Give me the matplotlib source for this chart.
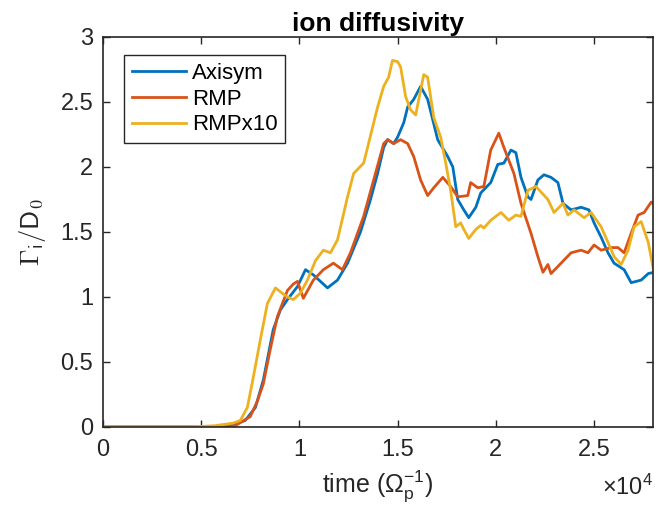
import matplotlib
matplotlib.use("Agg")
import matplotlib.pyplot as plt
from matplotlib.ticker import FuncFormatter

plt.rcParams['font.family'] = ['Liberation Sans', 'DejaVu Sans']
plt.rcParams['mathtext.fontset'] = 'custom'
plt.rcParams['mathtext.rm'] = 'Liberation Sans'
plt.rcParams['mathtext.it'] = 'Liberation Sans:italic'
plt.rcParams['mathtext.sf'] = 'Liberation Sans'

# time in units of 1/Omega_p
t_axisym = [0, 5460, 6480, 7240, 7760, 8160, 8670, 9030, 9390, 9900, 10310, 10710,
            11430, 11940, 12450, 13110, 13620, 13980, 14290, 14490, 14800, 15000,
            15310, 15510, 15820, 16170, 16530, 17040, 17550, 17810, 18060, 18370,
            18620, 18980, 19230, 19740, 20100, 20410, 20770, 21020, 21280, 21630,
            21790, 22140, 22450, 22810, 23160, 23420, 23830, 24340, 24740, 25000,
            25360, 25710, 26020, 26530, 26890, 27400, 27760, 28060]
axisym = [0, 0, 0.01, 0.05, 0.15, 0.36, 0.75, 0.9, 0.98, 1.08, 1.21, 1.17,
          1.07, 1.13, 1.26, 1.5, 1.75, 1.95, 2.15, 2.21, 2.18, 2.23,
          2.34, 2.46, 2.52, 2.62, 2.52, 2.21, 2.08, 2.0, 1.75, 1.67,
          1.61, 1.69, 1.8, 1.88, 2.02, 2.03, 2.13, 2.11, 1.92, 1.77,
          1.75, 1.9, 1.94, 1.92, 1.88, 1.72, 1.67, 1.69, 1.67, 1.57,
          1.46, 1.34, 1.26, 1.21, 1.11, 1.13, 1.18, 1.19]

t_rmp = [0, 5710, 6730, 7500, 7860, 8160, 8520, 8880, 9390, 9690, 9900, 10200,
         10710, 11220, 11730, 12190, 12600, 13270, 13780, 14290, 14490, 14800,
         15150, 15510, 15820, 16170, 16530, 16840, 17300, 17700, 18060, 18570,
         18720, 19080, 19390, 19740, 20150, 20410, 20920, 21280, 21790, 22140,
         22400, 22650, 22810, 23320, 23830, 24340, 24690, 25000, 25360, 25870,
         26220, 26530, 26890, 27240, 27550, 27910, 28060]
rmp = [0, 0, 0.01, 0.08, 0.2, 0.33, 0.6, 0.85, 1.05, 1.1, 1.12, 0.99,
       1.13, 1.21, 1.26, 1.21, 1.34, 1.62, 1.9, 2.18, 2.21, 2.18,
       2.21, 2.18, 2.08, 1.9, 1.78, 1.84, 1.92, 1.85, 1.77, 1.78,
       1.88, 1.84, 1.85, 2.13, 2.26, 2.15, 1.95, 1.72, 1.49, 1.31,
       1.19, 1.25, 1.18, 1.26, 1.34, 1.36, 1.34, 1.4, 1.36, 1.38,
       1.38, 1.34, 1.49, 1.63, 1.65, 1.73, 1.71]

t_rmp10 = [0, 4440, 5710, 6630, 6990, 7350, 7650, 8010, 8370, 8780, 9030, 9390,
           9690, 10050, 10410, 10820, 11220, 11580, 11940, 12450, 12760, 13270,
           13470, 13980, 14290, 14540, 14740, 15000, 15150, 15410, 15660, 15920,
           16170, 16330, 16530, 16680, 16840, 17190, 17450, 17700, 17960, 18210,
           18370, 18620, 18980, 19230, 19390, 19740, 20260, 20660, 21020, 21280,
           21630, 22040, 22650, 22960, 23420, 23670, 23980, 24490, 24850, 25360,
           25710, 26020, 26380, 26730, 27040, 27400, 27760, 28060]
rmp10 = [0, 0, 0.01, 0.03, 0.05, 0.15, 0.38, 0.67, 0.95, 1.07, 1.04, 1.0,
         0.98, 1.03, 1.13, 1.28, 1.36, 1.34, 1.44, 1.77, 1.95, 2.03,
         2.15, 2.46, 2.62, 2.69, 2.82, 2.81, 2.77, 2.54, 2.44, 2.4,
         2.59, 2.71, 2.69, 2.54, 2.38, 2.23, 2.03, 1.82, 1.54, 1.57,
         1.52, 1.45, 1.52, 1.55, 1.53, 1.59, 1.65, 1.59, 1.63, 1.62,
         1.82, 1.85, 1.75, 1.65, 1.72, 1.63, 1.67, 1.61, 1.65, 1.54,
         1.42, 1.31, 1.25, 1.36, 1.54, 1.58, 1.42, 1.18]

x_ticks = [0, 5000, 10000, 15000, 20000, 25000]
y_ticks = [0, 0.5, 1, 1.5, 2, 2.5, 3]

gris = '#262626'

fig = plt.figure(figsize=(6.7, 5.28), dpi=100)
ax = fig.add_axes([0.1537, 0.1913, 0.8209, 0.7387])

ax.plot(t_axisym, axisym, color='#0072BD', lw=2, label='Axisym')
ax.plot(t_rmp, rmp, color='#D95319', lw=2, label='RMP')
ax.plot(t_rmp10, rmp10, color='#EDB120', lw=2, label='RMPx10')

ax.set_xlim(0, 28000)
ax.set_ylim(0, 3)
ax.set_xticks(x_ticks)
ax.set_yticks(y_ticks)
ax.xaxis.set_major_formatter(FuncFormatter(lambda v, p: f'{v/1e4:g}'))
ax.yaxis.set_major_formatter(FuncFormatter(lambda v, p: f'{v:g}'))
ax.tick_params(direction='in', top=True, right=True, length=5, width=1,
               colors=gris, labelsize=17)
ax.tick_params(axis='y', pad=7)
ax.tick_params(axis='x', pad=9)
for sp in ax.spines.values():
    sp.set_color(gris)
    sp.set_linewidth(1.2)

ax.set_title('ion diffusivity', fontsize=19, fontweight='bold', color='black', pad=4)
ax.set_xlabel(r'time ($\Omega_\mathsf{p}^\mathsf{-1}$)', fontsize=18, color=gris, labelpad=5)
ax.set_ylabel(r'$\Gamma_\mathsf{i}/\mathsf{D}_\mathsf{0}$', fontsize=19, color=gris,
              labelpad=9, math_fontfamily='cm')
ax.text(1.0, -0.155, r'$\times$10$^4$', transform=ax.transAxes, ha='right', va='center',
        fontsize=17, color=gris)

leg = ax.legend(loc='upper left', bbox_to_anchor=(0.038, 0.954), borderaxespad=0,
                fancybox=False, framealpha=1, edgecolor=gris, fontsize=16,
                handlelength=2.45, borderpad=0.35, labelspacing=0.22, handletextpad=0.25)
leg.get_frame().set_linewidth(1.0)

fig.savefig('out.png', dpi=100)
